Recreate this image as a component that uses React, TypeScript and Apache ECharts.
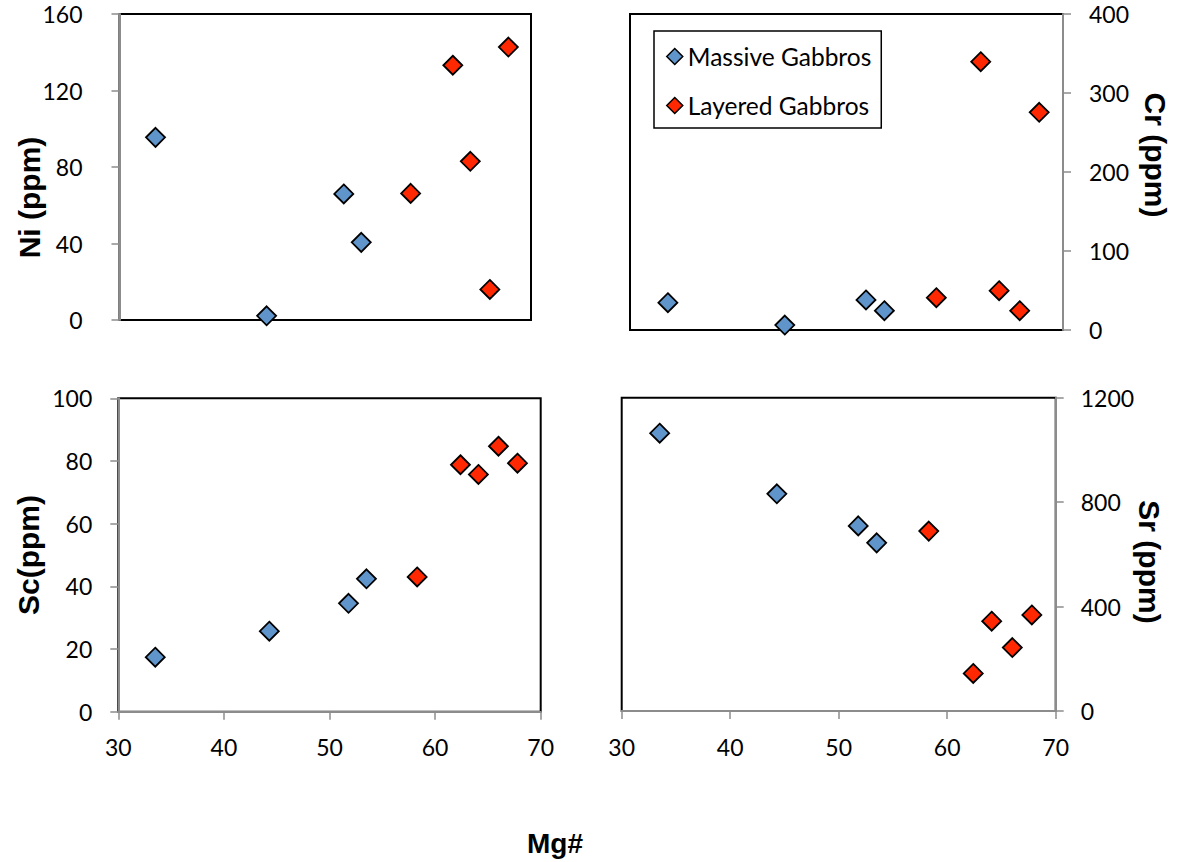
import React, { useEffect, useRef } from "react";
import * as echarts from "echarts";

const massiveMg = [33.5, 44.3, 51.8, 53.5];
const layeredMg = [58.3, 62.4, 64.1, 66.0, 67.8];

const massiveNi = [95.5, 2.2, 65.9, 40.6];
const layeredNi = [66.2, 133.2, 83.0, 16.0, 142.7];

const massiveCr = [34.6, 6.3, 38.0, 24.4];
const layeredCr = [40.9, 339.6, 49.7, 24.4, 275.6];

const massiveSc = [17.4, 25.7, 34.6, 42.4];
const layeredSc = [43.0, 78.8, 75.7, 84.7, 79.3];

const massiveSr = [1064, 832, 709, 644];
const layeredSr = [689, 144, 344, 243, 368];

const xTicks = [30, 40, 50, 60, 70];
const seriesNames = ["Massive Gabbros", "Layered Gabbros"];
const panelTitles = ["Ni (ppm)", "Cr (ppm)", "Sc(ppm)", "Sr (ppm)"];
const xTitle = "Mg#";

const BLUE = "#5F95CB";
const RED = "#FF2800";
const AXIS_GRAY = "#8C8C8C";
const LABEL_FONT = "Lato";
const LABEL_SIZE = 23;
const LEGEND_SIZE = 24.5;
const TITLE_FONT = "'Liberation Sans', Arial, sans-serif";

const zip = (xs: number[], ys: number[]) => xs.map((x, i) => [x, ys[i]]);

export default function App() {
  const ref = useRef<HTMLDivElement>(null);

  useEffect(() => {
    document.body.style.margin = "0";
    if (!ref.current) return;
    const chart = echarts.init(ref.current, null, { renderer: "svg" });

    const grids = [
      { left: 119.5, top: 14, width: 411.5, height: 306 },
      { left: 630, top: 14, width: 433, height: 316 },
      { left: 118.3, top: 398.3, width: 422.4, height: 313.4 },
      { left: 621.7, top: 397.7, width: 434, height: 313.3 },
    ].map((g) => ({
      ...g,
      show: true,
      borderColor: "#000",
      borderWidth: 2,
      backgroundColor: "transparent",
      containLabel: false,
      outerBoundsMode: "none",
    }));

    const xAxisBase = (i: number, showLabels: boolean) => ({
      type: "value",
      gridIndex: i,
      min: 30,
      max: 70,
      interval: 10,
      show: true,
      axisLine: { show: showLabels, onZero: false, lineStyle: { color: AXIS_GRAY, width: 2 } },
      axisTick: { show: showLabels, length: 8, lineStyle: { color: AXIS_GRAY, width: 1.5 } },
      axisLabel: {
        show: showLabels,
        margin: 24,
        fontFamily: LABEL_FONT,
        fontSize: LABEL_SIZE,
        color: "#000",
        customValues: xTicks,
      },
      splitLine: { show: false },
    });

    const yAxisBase = (
      i: number,
      max: number,
      interval: number,
      position: "left" | "right",
      margin: number
    ) => ({
      type: "value",
      gridIndex: i,
      min: 0,
      max,
      interval,
      position,
      axisLine: { show: true, onZero: false, lineStyle: { color: AXIS_GRAY, width: 2 } },
      axisTick: { show: true, length: 8, lineStyle: { color: AXIS_GRAY, width: 1.5 } },
      axisLabel: {
        margin,
        align: position === "left" ? "right" : "left",
        verticalAlign: "middle",
        fontFamily: LABEL_FONT,
        fontSize: LABEL_SIZE,
        color: "#000",
        formatter: (v: number) => String(v),
      },
      splitLine: { show: false },
    });

    const mk = (name: string, color: string, data: number[][], idx: number) => ({
      name,
      type: "scatter",
      xAxisIndex: idx,
      yAxisIndex: idx,
      symbol: "diamond",
      symbolSize: 19,
      data,
      itemStyle: { color, borderColor: "#000", borderWidth: 1.8, opacity: 1 },
      emphasis: { disabled: true },
    });

    const option: any = {
      animation: false,
      grid: grids,
      xAxis: [xAxisBase(0, false), xAxisBase(1, false), xAxisBase(2, true), xAxisBase(3, true)],
      yAxis: [
        yAxisBase(0, 160, 40, "left", 37),
        yAxisBase(1, 400, 100, "right", 26),
        yAxisBase(2, 100, 20, "left", 26),
        yAxisBase(3, 1200, 400, "right", 25),
      ],
      legend: {
        data: seriesNames,
        orient: "vertical",
        left: 654,
        top: 31,
        padding: [13, 10, 10, 12],
        itemGap: 24,
        itemWidth: 16,
        itemHeight: 16,
        borderColor: "#000",
        borderWidth: 1.5,
        backgroundColor: "#fff",
        icon: "diamond",
        textStyle: { fontFamily: LABEL_FONT, fontSize: LEGEND_SIZE, color: "#000" },
        itemStyle: { borderColor: "#000", borderWidth: 1.5 },
        selectedMode: false,
      },
      series: [
        mk(seriesNames[0], BLUE, zip(massiveMg, massiveNi), 0),
        mk(seriesNames[1], RED, zip(layeredMg, layeredNi), 0),
        mk(seriesNames[0], BLUE, zip(massiveMg, massiveCr), 1),
        mk(seriesNames[1], RED, zip(layeredMg, layeredCr), 1),
        mk(seriesNames[0], BLUE, zip(massiveMg, massiveSc), 2),
        mk(seriesNames[1], RED, zip(layeredMg, layeredSc), 2),
        mk(seriesNames[0], BLUE, zip(massiveMg, massiveSr), 3),
        mk(seriesNames[1], RED, zip(layeredMg, layeredSr), 3),
      ],
      graphic: [
        { pos: [29.5, 197.5], rot: Math.PI / 2, text: panelTitles[0] },
        { pos: [1155, 155], rot: -Math.PI / 2, text: panelTitles[1] },
        { pos: [28, 555], rot: Math.PI / 2, text: panelTitles[2] },
        { pos: [1149, 562], rot: -Math.PI / 2, text: panelTitles[3] },
      ]
        .map((t) => ({
          type: "text",
          x: t.pos[0],
          y: t.pos[1],
          rotation: t.rot,
          silent: true,
          style: {
            text: t.text,
            fontFamily: TITLE_FONT,
            fontWeight: "bold",
            fontSize: 30,
            fill: "#000",
            textAlign: "center",
            textVerticalAlign: "middle",
          },
        }))
        .concat([
          {
            type: "text",
            x: 555,
            y: 843,
            rotation: 0,
            silent: true,
            style: {
              text: xTitle,
              fontFamily: TITLE_FONT,
              fontWeight: "bold",
              fontSize: 28,
              fill: "#000",
              textAlign: "center",
              textVerticalAlign: "middle",
            },
          },
        ] as any),
    };

    chart.setOption(option);
    return () => chart.dispose();
  }, []);

  return <div ref={ref} style={{ width: 1180, height: 862, background: "#fff" }} />;
}
